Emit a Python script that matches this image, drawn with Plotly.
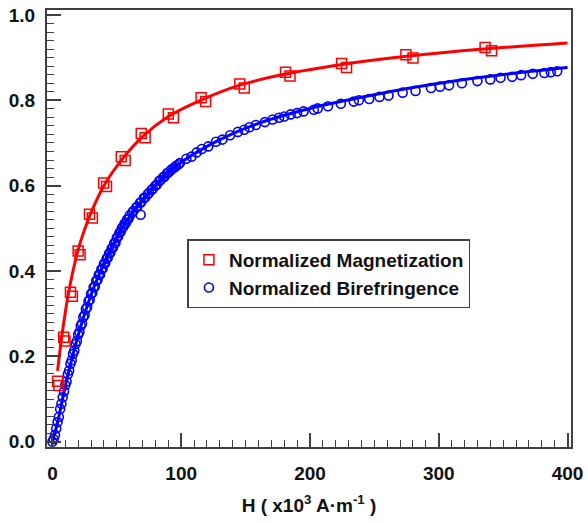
import plotly.graph_objects as go

# ---------------- data ----------------
# Normalized magnetization, two overlapping square sets
mag_H1 = [4.0, 8.8, 14.0, 20.0, 28.8, 39.8, 53.5, 69.0, 90.0, 115.5, 145.5, 181.0, 224.6, 274.5, 336.0]
mag_M1 = [0.142, 0.245, 0.350, 0.447, 0.533, 0.606, 0.668, 0.722, 0.768, 0.806, 0.838, 0.866, 0.886, 0.907, 0.924]
mag_H2 = [5.0, 9.8, 15.5, 21.5, 31.0, 42.0, 56.5, 72.0, 94.0, 119.0, 149.0, 184.5, 228.4, 280.0, 341.0]
mag_M2 = [0.132, 0.236, 0.341, 0.438, 0.524, 0.598, 0.659, 0.712, 0.759, 0.797, 0.829, 0.857, 0.877, 0.899, 0.916]

# Fit curve for magnetization (read points)
mag_fit_H = [4, 8, 12, 16, 20, 25, 30, 40, 55, 70, 90, 115, 145, 180, 225, 275, 335, 400]
mag_fit_M = [0.166, 0.262, 0.340, 0.400, 0.450, 0.497, 0.537, 0.600, 0.665, 0.715, 0.762, 0.800,
             0.835, 0.861, 0.884, 0.903, 0.920, 0.934]

# Normalized birefringence (circles)
bir_H = [0, 1, 2, 3, 4, 5, 6, 7, 8, 9, 10, 11, 12, 13, 14, 15, 16, 17, 18, 19,
         20, 21, 22, 23, 24, 25, 26, 27, 28, 29, 30, 31, 32, 33, 34, 35, 36, 37, 38, 39,
         40, 41, 42, 43, 44, 45, 46, 47, 48, 49, 50, 51, 52, 53, 54, 55, 56, 57, 58, 59,
         60, 62, 63, 65, 66, 68, 68.5, 69, 71, 72, 74, 75, 77, 78, 80, 81, 83, 84, 86, 87,
         89, 90, 92, 93, 95, 96, 98, 99,
         104, 108, 112, 116, 121, 127, 132, 138, 144, 149, 153, 158, 165, 171, 176, 180,
         185, 190, 195, 203, 206, 214, 224, 234, 238, 246, 254, 261, 272, 282, 294, 301,
         308, 318, 330, 340, 348, 357, 364, 373, 382, 387, 392]
bir_B = [0.000, 0.006, 0.016, 0.031, 0.046, 0.058, 0.077, 0.089, 0.104, 0.118,
         0.133, 0.141, 0.158, 0.167, 0.183, 0.191, 0.206, 0.214, 0.229, 0.236,
         0.251, 0.257, 0.272, 0.277, 0.292, 0.297, 0.311, 0.315, 0.329, 0.333,
         0.346, 0.349, 0.362, 0.364, 0.377, 0.379, 0.391, 0.392, 0.404, 0.406,
         0.417, 0.418, 0.429, 0.431, 0.441, 0.443, 0.453, 0.455, 0.465, 0.466,
         0.478, 0.481, 0.489, 0.492, 0.501, 0.503, 0.511, 0.512, 0.521, 0.522,
         0.530, 0.537, 0.541, 0.549, 0.551, 0.560, 0.532, 0.561, 0.571, 0.572,
         0.580, 0.583, 0.590, 0.593, 0.600, 0.602, 0.611, 0.613, 0.620, 0.621,
         0.629, 0.631, 0.636, 0.639, 0.643, 0.646, 0.650, 0.653,
         0.663, 0.668, 0.678, 0.686, 0.692, 0.703, 0.708, 0.718, 0.726, 0.731,
         0.737, 0.742, 0.749, 0.755, 0.759, 0.762, 0.767, 0.770, 0.774, 0.778,
         0.781, 0.786, 0.792, 0.797, 0.800, 0.803, 0.808, 0.811, 0.818, 0.822,
         0.829, 0.832, 0.835, 0.840, 0.845, 0.849, 0.853, 0.855, 0.859, 0.862,
         0.864, 0.866, 0.868]

bir_fit_H = [0, 4, 10, 16, 22, 28, 35, 42, 50, 60, 70, 80, 90, 100, 120, 140, 160, 180,
             200, 240, 280, 320, 360, 400]
bir_fit_B = [0.0, 0.045, 0.130, 0.205, 0.270, 0.327, 0.383, 0.430, 0.478, 0.528, 0.566,
             0.601, 0.632, 0.655, 0.692, 0.722, 0.746, 0.765, 0.781, 0.807, 0.830, 0.849,
             0.864, 0.877]

legend_names = ["Normalized Magnetization", "Normalized Birefringence"]
x_title = "H ( x10<sup>3</sup> A·m<sup>-1</sup> )"

RED = "#ff0000"
BLUE = "#0000ff"
AX = "#404040"
FONT = "Liberation Sans, Arial, sans-serif"

fig = go.Figure()

fig.add_trace(go.Scatter(
    x=bir_H, y=bir_B, mode="markers", name=legend_names[1], legendrank=2,
    marker=dict(symbol="circle-open", size=9, color=BLUE, line=dict(width=1.6, color=BLUE))))
fig.add_trace(go.Scatter(
    x=bir_fit_H, y=bir_fit_B, mode="lines", showlegend=False,
    line=dict(color=BLUE, width=3, shape="spline", smoothing=1.0)))
fig.add_trace(go.Scatter(
    x=mag_H2, y=mag_M2, mode="markers", showlegend=False,
    marker=dict(symbol="square-open", size=10, color=RED, line=dict(width=1.5, color=RED))))
fig.add_trace(go.Scatter(
    x=mag_H1, y=mag_M1, mode="markers", name=legend_names[0], legendrank=1,
    marker=dict(symbol="square-open", size=10, color=RED, line=dict(width=1.5, color=RED))))
fig.add_trace(go.Scatter(
    x=mag_fit_H, y=mag_fit_M, mode="lines", showlegend=False,
    line=dict(color=RED, width=3, shape="spline", smoothing=1.0)))

axis_common = dict(
    showline=True, linecolor=AX, linewidth=2, mirror=True,
    showgrid=False, zeroline=False,
    ticks="inside", ticklen=14, tickwidth=1.5, tickcolor=AX,
    tickfont=dict(family=FONT, size=19, color="#111", weight="bold"),
    ticklabeloverflow="allow",
)

fig.update_xaxes(
    range=[-4.2, 402.7], tick0=0, dtick=100, ticklabelstandoff=8,
    minor=dict(dtick=10, ticks="inside", ticklen=7, tickwidth=1.2, tickcolor=AX),
    title=dict(text=x_title, standoff=16,
               font=dict(family=FONT, size=19, color="#111", weight="bold")),
    **axis_common)
fig.update_yaxes(
    range=[-0.0123, 1.0116], tick0=0, dtick=0.2, tickformat=".1f", ticklabelstandoff=6,
    minor=dict(dtick=0.02, ticks="inside", ticklen=7, tickwidth=1.2, tickcolor=AX),
    **axis_common)

fig.update_layout(
    width=588, height=523,
    margin=dict(l=47, r=11, t=5, b=76),
    plot_bgcolor="white", paper_bgcolor="white",
    legend=dict(x=0.268, y=0.475, xanchor="left", yanchor="top",
                bgcolor="white", bordercolor=AX, borderwidth=1.5,
                font=dict(family=FONT, size=19, color="#111", weight="bold"),
                tracegroupgap=0),
)

fig.write_html("out.html")
